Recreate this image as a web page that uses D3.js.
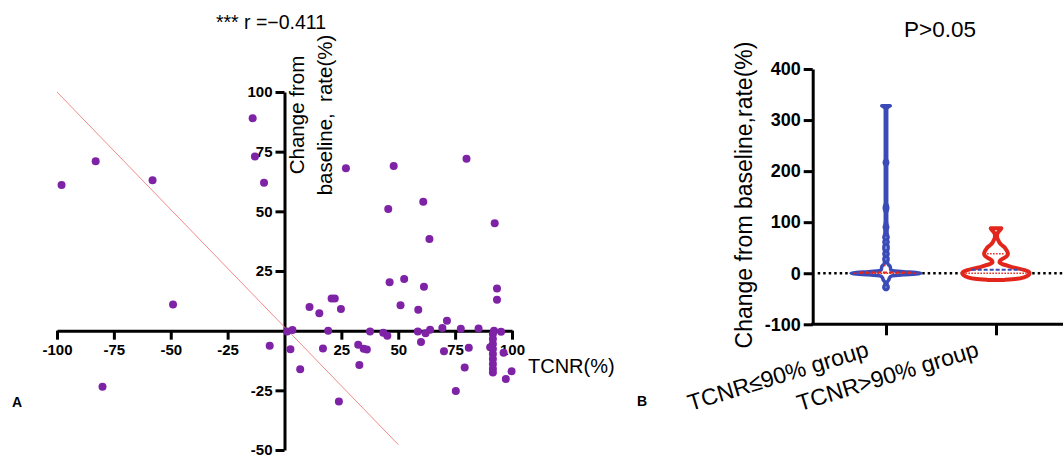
<!DOCTYPE html>
<html>
<head>
<meta charset="utf-8">
<title>TCNR vs change from baseline</title>
<script src="https://d3js.org/d3.v7.min.js"></script>
<style>
  body { margin: 0; background: #fff; }
  svg { display: block; font-family: "Liberation Sans", Arial, sans-serif; }
  .axis path, .axis line { stroke: #000; stroke-width: 3; }
  .axis text { font-weight: bold; fill: #000; font-family: "Liberation Sans", Arial, sans-serif; }
</style>
</head>
<body>
<svg width="1063" height="458"></svg>
<script>
// ---- panel A data: TCNR (%) vs change from baseline rate (%)
const tcnr = [-98, -83, -58, -14, -13, -9, -49, -80, -6.5,
  1.2, 3.5, 2.6, 6.9, 11, 15.3, 20.7, 22.1, 24.8, 19.2, 16.9, 23.9,
  27, 48, 80, 45.6, 61, 92.4, 63.7, 46.2, 52.6, 61.3, 93.4, 93.4, 51, 58.8,
  71.4, 69.4, 77.5, 85.3, 64, 92.1, 95.2, 37.6, 43.4, 45.2, 58.6, 62, 60,
  32.4, 34.8, 36.2, 32.9, 70.1, 81, 79.2, 75.3,
  91.6, 91.6, 91.6, 91.6, 91.6, 91.6, 91.6, 91.6, 91.6, 90.4, 96.3, 99.8, 97.3];
const change = [61, 71, 63, 89, 73, 62, 11, -23.5, -6.3,
  -0.3, 0.3, -7.8, -16.2, 9.9, 7.3, 13.5, 13.5, 9.1, 0, -7.5, -29.7,
  68, 69, 72, 51, 54, 45, 38.4, 20.3, 21.7, 18.4, 17.7, 13, 10.7, 8.8,
  4.2, 1.1, 0.8, 0.9, 0.4, 0, -0.5, -0.4, -0.9, -2.1, -0.4, -1.1, -4.8,
  -5.9, -7.6, -7.9, -14.4, -8.6, -7.2, -15.4, -25.3,
  -1.4, -3.5, -5.6, -7.7, -9.8, -11.9, -14, -16, -17.5, -7, -9.3, -17, -20.3];
const xTicksA = [-100, -75, -50, -25, 25, 50, 75, 100];
const yTicksA = [-50, -25, 25, 50, 75, 100];
const fitSlope = -0.985, fitIntercept = 1.5, fitRange = [-100, 50];

// ---- panel B data: violin profiles (level, relative density)
const groups = ["TCNR\u226490% group", "TCNR>90% group"];
const blueLevels = [-32, -29, -26, -22, -18, -13, -9, -6, -3, -1.5, 0, 1.5, 3, 6, 9, 13, 17, 20, 24, 28, 33, 38,
  43, 48, 52, 57, 61, 66, 70, 75, 80, 85, 90, 95, 105, 118, 128, 138, 160, 190, 210, 217, 224, 250, 290, 320, 324, 328];
const blueDensity = [0.02, 0.06, 0.06, 0.03, 0.03, 0.08, 0.1, 0.14, 0.5, 0.85, 1.0, 0.85, 0.5, 0.14, 0.13, 0.12, 0.07, 0.04, 0.05, 0.06, 0.04, 0.06,
  0.04, 0.06, 0.06, 0.04, 0.06, 0.04, 0.06, 0.04, 0.03, 0.03, 0.05, 0.03, 0.02, 0.02, 0.05, 0.02, 0.02, 0.02, 0.02, 0.05, 0.02, 0.02, 0.02, 0.02, 0.04, 0.12];
const redLevels = [-13, -11, -8, -4, 0, 3, 6, 9, 12, 15, 18, 21.5, 25, 28, 33, 38, 43, 47, 51, 56, 60, 64, 68, 72, 76, 80, 84, 88];
const redDensity = [0.25, 0.6, 0.8, 0.92, 0.96, 0.93, 0.82, 0.65, 0.45, 0.32, 0.18, 0.1, 0.12, 0.18, 0.3, 0.34, 0.32, 0.28, 0.24, 0.15, 0.1, 0.07, 0.04, 0.03, 0.03, 0.06, 0.11, 0.15];
const blueQuart = [0, 1.5, 15];   // q1, median, q3
const redQuart = [0, 6.7, 38];
const yTicksB = [-100, 0, 100, 200, 300, 400];

const svg = d3.select("svg");
const purple = "#7e22a6", blue = "#3a4bb8", red = "#e3261b";
const plain = d => String(d);

// ================= panel A =================
const xA = d3.scaleLinear().domain([-100, 100]).range([57, 512]);
const yA = d3.scaleLinear().domain([-50, 100]).range([450, 92]);

svg.append("g").attr("class", "axis")
  .attr("transform", `translate(0,${yA(0)})`)
  .call(d3.axisBottom(xA).tickValues(xTicksA).tickFormat(plain).tickSize(9).tickSizeOuter(0).tickPadding(5))
  .selectAll("text").style("font-size", "15px");

svg.append("g").attr("class", "axis")
  .attr("transform", `translate(${xA(0)},0)`)
  .call(d3.axisLeft(yA).tickValues(yTicksA).tickFormat(plain).tickSize(9).tickSizeOuter(0).tickPadding(3))
  .selectAll("text").style("font-size", "15px");

svg.append("line")
  .attr("x1", xA(fitRange[0])).attr("y1", yA(fitSlope * fitRange[0] + fitIntercept))
  .attr("x2", xA(fitRange[1])).attr("y2", yA(fitSlope * fitRange[1] + fitIntercept))
  .attr("stroke", "#f28a8a").attr("stroke-width", 1);

svg.append("g").selectAll("circle")
  .data(tcnr.map((t, i) => [t, change[i]]))
  .join("circle")
  .attr("cx", d => xA(d[0])).attr("cy", d => yA(d[1]))
  .attr("r", 4).attr("fill", purple);

svg.append("text").attr("x", 271).attr("y", 29).attr("text-anchor", "middle")
  .style("font-size", "19.5px").text("*** r =\u22120.411");

const yTitleA = svg.append("text").attr("transform", "translate(304,115) rotate(-90)")
  .attr("text-anchor", "middle").style("font-size", "20.5px");
yTitleA.append("tspan").attr("x", 0).attr("y", 0).text("Change from");
yTitleA.append("tspan").attr("x", 0).attr("y", 28).text("baseline,\u00a0\u00a0rate(%)");

svg.append("text").attr("x", 528).attr("y", 373).style("font-size", "20px").text("TCNR(%)");
svg.append("text").attr("x", 12).attr("y", 407).style("font-size", "14px").style("font-weight", "bold").text("A");

// ================= panel B =================
const yB = d3.scaleLinear().domain([-100, 400]).range([324.3, 69]);
const xB = d3.scalePoint().domain(groups).range([886, 996]);
const wB = d3.scaleLinear().domain([0, 1]).range([0, 35]);
const axisX0 = 812.7;

// zero reference line
svg.append("line")
  .attr("x1", axisX0 + 5).attr("x2", 1063)
  .attr("y1", yB(0)).attr("y2", yB(0))
  .attr("stroke", "#000").attr("stroke-width", 2.5)
  .attr("stroke-dasharray", "2.5,3");

svg.append("g").attr("class", "axis")
  .attr("transform", `translate(${axisX0},0)`)
  .call(d3.axisLeft(yB).tickValues(yTicksB).tickFormat(plain).tickSize(9).tickSizeOuter(0).tickPadding(3))
  .selectAll("text").style("font-size", "18px");

const xAxisB = svg.append("g").attr("class", "axis")
  .attr("transform", `translate(0,${yB(-100)})`)
  .call(d3.axisBottom(xB).tickSize(11).tickFormat(""));
xAxisB.select(".domain").remove();
svg.append("line").attr("x1", axisX0 - 1.5).attr("x2", 1063)
  .attr("y1", yB(-100)).attr("y2", yB(-100))
  .attr("stroke", "#000").attr("stroke-width", 3);

const violins = [
  { name: groups[0], levels: blueLevels, dens: blueDensity, color: blue, sw: 3.5, quart: blueQuart, medColor: red, qColor: red },
  { name: groups[1], levels: redLevels, dens: redDensity, color: red, sw: 4, quart: redQuart, medColor: blue, qColor: red }
];

violins.forEach(v => {
  const cx = xB(v.name);
  const pts = v.levels.map((l, i) => [l, v.dens[i]]);
  const area = d3.area()
    .curve(d3.curveMonotoneY)
    .y(d => yB(d[0]))
    .x0(d => cx - wB(d[1]))
    .x1(d => cx + wB(d[1]));
  svg.append("path").datum(pts)
    .attr("d", area)
    .attr("fill", "#fff")
    .attr("stroke", v.color).attr("stroke-width", v.sw)
    .attr("stroke-linejoin", "round");

  const densAt = d3.scaleLinear().domain(v.levels).range(v.dens);
  v.quart.forEach((q, i) => {
    const hw = Math.max(wB(densAt(q)) - v.sw / 2 - 1, 2);
    svg.append("line")
      .attr("x1", cx - hw).attr("x2", cx + hw)
      .attr("y1", yB(q)).attr("y2", yB(q))
      .attr("stroke", i === 1 ? v.medColor : v.qColor)
      .attr("stroke-width", i === 1 ? 2 : 1.5)
      .attr("stroke-dasharray", i === 1 ? "4,2" : "1.5,1.5");
  });

  svg.append("text")
    .attr("transform", `translate(${cx - 16},356) rotate(-17)`)
    .attr("text-anchor", "end")
    .style("font-size", "23px")
    .text(v.name);
});

svg.append("text").attr("transform", "translate(752,195) rotate(-90)")
  .attr("text-anchor", "middle").style("font-size", "23px")
  .text("Change from baseline,rate(%)");

svg.append("text").attr("x", 940).attr("y", 37).attr("text-anchor", "middle")
  .style("font-size", "22.5px").text("P>0.05");

svg.append("text").attr("x", 637).attr("y", 406).style("font-size", "14px").style("font-weight", "bold").text("B");
</script>
</body>
</html>
